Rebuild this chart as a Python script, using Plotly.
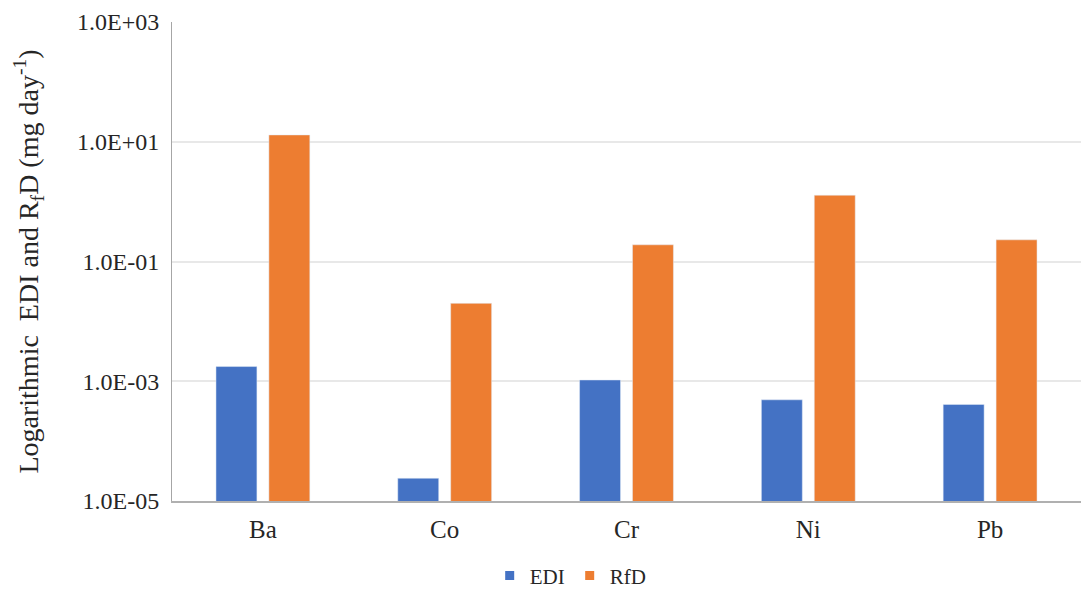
import plotly.graph_objects as go

metals = ["Ba", "Co", "Cr", "Ni", "Pb"]
edi = [1.76e-3, 2.4e-5, 1.05e-3, 4.9e-4, 4.1e-4]
rfd = [13.0, 2.0e-2, 0.19, 1.28, 0.23]
tick_vals = [1e-5, 1e-3, 1e-1, 1e1, 1e3]
tick_text = ["1.0E-05", "1.0E-03", "1.0E-01", "1.0E+01", "1.0E+03"]
series_names = ["EDI", "RfD"]
series_colors = ["#4472C4", "#ED7D31"]

font_family = "Liberation Serif, Times New Roman, serif"

fig = go.Figure()
for name, values, color in zip(series_names, [edi, rfd], series_colors):
    fig.add_trace(go.Bar(x=metals, y=values, name=name, marker_color=color,
                         showlegend=False))
# small square legend keys
for name, color in zip(series_names, series_colors):
    fig.add_trace(go.Scatter(x=[None], y=[None], mode="markers", name=name,
                             marker=dict(symbol="square", size=9, color=color)))

fig.update_layout(
    width=1081, height=593,
    margin=dict(l=172, r=0, t=22, b=92, autoexpand=False),
    plot_bgcolor="white", paper_bgcolor="white",
    barmode="group", bargap=0.418, bargroupgap=0.226,
    font=dict(family=font_family, size=24, color="#262626"),
    legend=dict(orientation="h", xref="container", yref="container",
                x=0.453, xanchor="left", y=0.029, yanchor="middle",
                font=dict(family=font_family, size=21), itemwidth=30,
                traceorder="normal", tracegroupgap=0),
    showlegend=True,
)
fig.update_xaxes(
    showline=True, linecolor="#b0b0b0", linewidth=2,
    showgrid=False, ticks="", tickfont=dict(family=font_family, size=25),
    ticklabelstandoff=5,
)
fig.update_yaxes(
    type="log", range=[-5, 3],
    tickvals=tick_vals, ticktext=tick_text,
    showline=True, linecolor="#a6a6a6", linewidth=1,
    showgrid=True, gridcolor="#e8e8e8", gridwidth=1.5,
    ticks="", ticklabelstandoff=7, tickfont=dict(family=font_family, size=24),
    title=dict(text="Logarithmic  EDI and R<sub>f</sub>D (mg day<sup>-1</sup>)",
               font=dict(family=font_family, size=28), standoff=30),
    zeroline=False,
)

fig.write_html("out.html")
